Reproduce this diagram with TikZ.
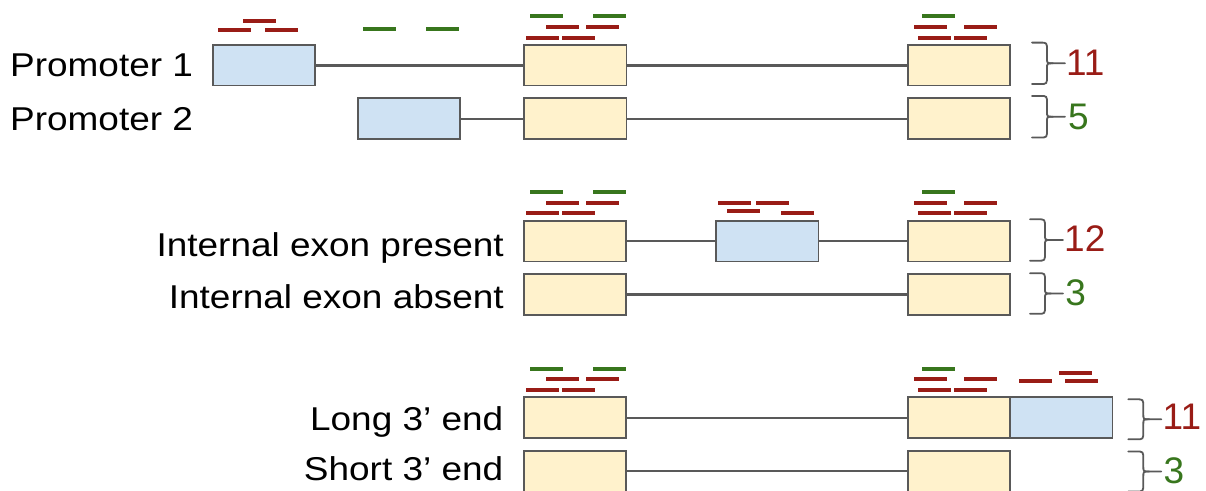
\documentclass[tikz,border=0pt]{standalone}
\usepackage{fontspec}
\setmainfont{Liberation Sans}

\definecolor{exonfill}{HTML}{FFF2CC}
\definecolor{altfill}{HTML}{CFE2F3}
\definecolor{edgegray}{HTML}{595959}
\definecolor{readred}{RGB}{153,28,22}
\definecolor{readgreen}{RGB}{56,118,29}

% horizontally widened label text
\newcommand{\stretchx}[1]{\scalebox{1.12}[1]{#1}}
% short sequencing reads drawn as thin bars (top-left corner given)
\newcommand{\redread}[2]{\fill[readred] (#1,#2) rectangle ++(33,4);}
\newcommand{\greenread}[2]{\fill[readgreen] (#1,#2) rectangle ++(33,4);}

\tikzset{
  exonbox/.style={draw=edgegray, line width=1.8pt, fill=exonfill,
    minimum width=102.5pt, minimum height=40.5pt,
    inner sep=0pt, outer sep=0pt, anchor=north west},
  altbox/.style={exonbox, fill=altfill},
  intron/.style={draw=edgegray, line width=2pt},
  intronthick/.style={draw=edgegray, line width=2.8pt},
  rowlabel/.style={font=\fontsize{33}{36}\selectfont, inner sep=0pt, text=black},
  countred/.style={font=\fontsize{37}{40}\selectfont, inner sep=0pt, text=readred, anchor=base west},
  countgreen/.style={countred, text=readgreen},
  bracelook/.style={draw=edgegray, line width=1.8pt, line cap=round},
  pics/readbrace/.style={code={
    \draw[bracelook] (0,-#1) -- (8,-#1) .. controls (15,-#1) .. (15,{-#1+8})
      -- (15,-5) .. controls (15,0) .. (21,0) -- (33,0);
    \draw[bracelook] (21,0) .. controls (15,0) .. (15,5)
      -- (15,{#1-8}) .. controls (15,#1) .. (8,#1) -- (0,#1);
  }},
}

\begin{document}
\begin{tikzpicture}[x=1pt, y=-1pt]
\useasboundingbox (0,0) rectangle (1206,490);

% ---------- alternative promoters ----------
\node[rowlabel, anchor=base west] (lp1) at (10,76.7) {\stretchx{Promoter 1}};
\node[rowlabel, anchor=base west] (lp2) at (10,130) {\stretchx{Promoter 2}};

\node[altbox]  (p1a) at (212.7,45) {};
\node[exonbox] (p1b) at (524,45) {};
\node[exonbox] (p1c) at (907.7,45) {};
\draw[intronthick] (p1a.east) -- (p1b.west);
\draw[intronthick] (p1b.east) -- (p1c.west);

\node[altbox]  (p2a) at (357.7,98.3) {};
\node[exonbox] (p2b) at (524,98.3) {};
\node[exonbox] (p2c) at (907.7,98.3) {};
\draw[intron] (p2a.east) -- (p2b.west);
\draw[intron] (p2b.east) -- (p2c.west);

\redread{243}{19}
\redread{218}{27.5} \redread{265}{27.5}
\greenread{363}{26.5} \greenread{426}{26.5}

\greenread{530}{14} \greenread{593}{14}
\redread{546}{25} \redread{586}{25}
\redread{526}{35.5} \redread{562}{35.5}

\greenread{922}{14}
\redread{914}{25} \redread{964}{25}
\redread{918}{35.5} \redread{954}{35.5}

\pic at (1032,63.3) {readbrace=20.7};
\node[countred] (n1) at (1065.8,75) {11};
\pic at (1032,116.7) {readbrace=20.8};
\node[countgreen] (n2) at (1067.8,129) {5};

% ---------- internal exon ----------
\node[rowlabel, anchor=base east] (li1) at (504,256.7) {\stretchx{Internal exon present}};
\node[rowlabel, anchor=base east] (li2) at (504,308.3) {\stretchx{Internal exon absent}};

\node[exonbox] (i1a) at (523.7,221) {};
\node[altbox]  (i1b) at (716,221) {};
\node[exonbox] (i1c) at (907.7,221) {};
\draw[intron] (i1a.east) -- (i1b.west);
\draw[intron] (i1b.east) -- (i1c.west);

\node[exonbox] (i2a) at (523.7,274.3) {};
\node[exonbox] (i2b) at (907.7,274.3) {};
\draw[intronthick] (i2a.east) -- (i2b.west);

\greenread{530}{190} \greenread{593}{190}
\redread{546}{200.5} \redread{586}{200.5}
\redread{526}{211} \redread{562}{211}

\redread{718}{200.5} \redread{756}{200.5}
\redread{727}{208.5}
\redread{781}{211}

\greenread{922}{190}
\redread{914}{200.5} \redread{964}{200.5}
\redread{918}{211} \redread{954}{211}

\pic at (1030,240) {readbrace=20.7};
\node[countred] (n3) at (1064,251.7) {12};
\pic at (1030,293.5) {readbrace=20.3};
\node[countgreen] (n4) at (1065.2,305) {3};

% ---------- alternative 3' ends ----------
\node[rowlabel, anchor=base east] (ll1) at (503.5,430) {\stretchx{Long 3’ end}};
\node[rowlabel, anchor=base east] (ll2) at (503.5,480) {\stretchx{Short 3’ end}};

\node[exonbox] (e1a) at (523.7,397.3) {};
\node[exonbox] (e1b) at (907.7,397.3) {};
\node[altbox]  (e1c) at (1010,397.3) {};
\draw[intron] (e1a.east) -- (e1b.west);

\node[exonbox] (e2a) at (523.7,451) {};
\node[exonbox] (e2b) at (907.7,451) {};
\draw[intron] (e2a.east) -- (e2b.west);

\greenread{530}{366.5} \greenread{593}{366.5}
\redread{546}{377} \redread{586}{377}
\redread{526}{387.5} \redread{562}{387.5}

\greenread{922}{366.5}
\redread{914}{377} \redread{964}{377}
\redread{918}{387.5} \redread{954}{387.5}

\redread{1059}{371}
\redread{1019}{379} \redread{1065}{379}

\pic at (1128.3,419.3) {readbrace=20};
\node[countred] (n5) at (1162.5,429.3) {11};
\pic at (1128.3,471.5) {readbrace=20};
\node[countgreen] (n6) at (1163.5,483.3) {3};
\end{tikzpicture}
\end{document}
